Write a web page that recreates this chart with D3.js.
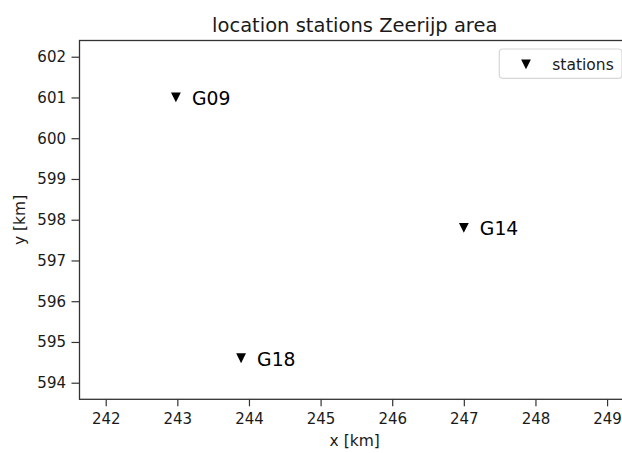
<!DOCTYPE html>
<html>
<head>
<meta charset="utf-8">
<script src="https://cdn.jsdelivr.net/npm/d3@7"></script>
<style>
  html, body { margin: 0; padding: 0; background: #fff; overflow: hidden; }
  svg { display: block; font-family: "DejaVu Sans", sans-serif; }
</style>
</head>
<body>
<svg id="chart" width="622" height="453"></svg>
<script>
// Station names and coordinates (RD, km)
const stationNames = ["G09", "G14", "G18"];
const stationX = [242.98, 247.0, 243.89];
const stationY = [601.0, 597.8, 594.6];

// Axis ticks and limits
const xTicks = [242, 243, 244, 245, 246, 247, 248, 249];
const yTicks = [594, 595, 596, 597, 598, 599, 600, 601, 602];
const xLimits = [241.634, 249.32];
const yLimits = [593.593, 602.398];

const titleText = "location stations Zeerijp area";
const xLabelText = "x [km]";
const yLabelText = "y [km]";
const legendText = "stations";

const svg = d3.select("#chart");
const plot = { left: 79.5, right: 630, top: 40.5, bottom: 399.3 };
const ink = "#1a1a1a";

const x = d3.scaleLinear().domain(xLimits).range([plot.left, plot.right]);
const y = d3.scaleLinear().domain(yLimits).range([plot.bottom, plot.top]);

// Axes
const xAxis = svg.append("g")
  .attr("transform", `translate(0,${plot.bottom})`)
  .call(d3.axisBottom(x).tickValues(xTicks).tickFormat(d3.format("d")).tickSize(7).tickPadding(7));
const yAxis = svg.append("g")
  .attr("transform", `translate(${plot.left},0)`)
  .call(d3.axisLeft(y).tickValues(yTicks).tickFormat(d3.format("d")).tickSize(8).tickPadding(5.5));

[xAxis, yAxis].forEach(g => {
  g.select(".domain").remove();
  g.selectAll(".tick line").attr("stroke", "#333").attr("stroke-width", 1.2);
  g.selectAll(".tick text")
    .attr("fill", ink)
    .style("font-family", "'DejaVu Sans', sans-serif")
    .style("font-size", "15px");
});

// Frame (spines)
svg.append("rect")
  .attr("x", plot.left).attr("y", plot.top)
  .attr("width", plot.right - plot.left).attr("height", plot.bottom - plot.top)
  .attr("fill", "none").attr("stroke", "#333").attr("stroke-width", 1.3);

// Downward triangle marker centred on (cx, cy)
const tri = (cx, cy, h) => `M${cx - h},${cy - h}L${cx + h},${cy - h}L${cx},${cy + h}Z`;

const stations = stationNames.map((n, i) => ({ name: n, x: stationX[i], y: stationY[i] }));

svg.append("g").selectAll("path")
  .data(stations).join("path")
  .attr("d", d => tri(x(d.x), y(d.y), 4.9))
  .attr("fill", "#000");

svg.append("g").selectAll("text")
  .data(stations).join("text")
  .attr("x", d => x(d.x) + 16)
  .attr("y", d => y(d.y) + 7.5)
  .attr("fill", "#000")
  .style("font-size", "18.8px")
  .text(d => d.name);

// Title and axis labels
svg.append("text")
  .attr("x", (plot.left + plot.right) / 2).attr("y", 31.5)
  .attr("text-anchor", "middle").attr("fill", ink)
  .style("font-size", "19.5px")
  .text(titleText);

svg.append("text")
  .attr("x", (plot.left + plot.right) / 2).attr("y", 446)
  .attr("text-anchor", "middle").attr("fill", ink)
  .style("font-size", "15.5px")
  .text(xLabelText);

svg.append("text")
  .attr("transform", `translate(24.5,${(plot.top + plot.bottom) / 2}) rotate(-90)`)
  .attr("text-anchor", "middle").attr("fill", ink)
  .style("font-size", "15.5px")
  .text(yLabelText);

// Legend (upper right)
const legend = svg.append("g");
const lgRight = plot.right - 8;
legend.append("rect")
  .attr("x", 499.3).attr("y", plot.top + 8.5)
  .attr("width", lgRight - 499.3).attr("height", 29.3)
  .attr("rx", 3.5)
  .attr("fill", "#fff").attr("fill-opacity", 0.8)
  .attr("stroke", "#d6d6d6").attr("stroke-width", 1.2);
legend.append("path")
  .attr("d", tri(526, 64.3, 4.9))
  .attr("fill", "#000");
legend.append("text")
  .attr("x", 552.3).attr("y", 69.8)
  .attr("fill", ink)
  .style("font-size", "15.5px")
  .text(legendText);
</script>
</body>
</html>
